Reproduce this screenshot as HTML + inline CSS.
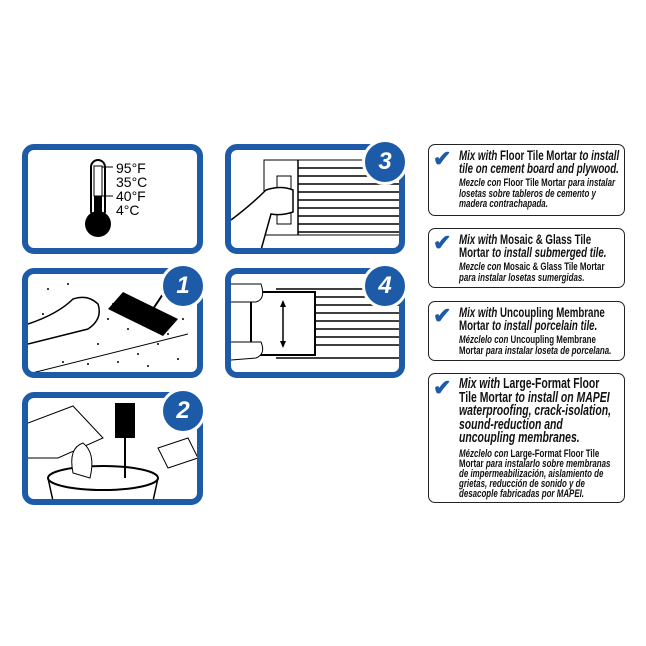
<!DOCTYPE html>
<html><head><meta charset="utf-8"><style>
body{margin:0;width:646px;height:646px;background:#fff;position:relative;font-family:"Liberation Sans",sans-serif;overflow:hidden}
.p{position:absolute;border:6px solid #1d5aa8;border-radius:12px;box-sizing:border-box;background:#fff;overflow:hidden}
.n{position:absolute;width:40px;height:40px;border-radius:50%;background:#1d5aa8;color:#fff;font:italic bold 24px "Liberation Sans",sans-serif;text-align:center;line-height:40px;border:3px solid #fff}
.b{position:absolute;left:428px;width:197px;border:1.5px solid #222;border-radius:7px;box-sizing:border-box;color:#111}
.t{position:absolute;left:30px;top:4px;width:225px;transform:scaleX(0.72);transform-origin:0 0}
.h{font:bold 13.5px/13px "Liberation Sans",sans-serif}
.h i{font-style:italic}
.s{font:bold 11px/10.5px "Liberation Sans",sans-serif;margin-top:3px;width:222px}
.s i{font-style:italic}
.ck{position:absolute;left:4px;top:1px;color:#1d5aa8;font-size:22px;font-weight:bold}
</style></head><body>

<div class="p" style="left:22px;top:144px;width:181px;height:110px">
<svg width="170" height="100" style="position:absolute;left:0;top:0">
<rect x="63" y="10" width="14" height="58" rx="7" fill="#fff" stroke="#000" stroke-width="2"/>
<circle cx="70" cy="74" r="13" fill="#000"/>
<rect x="66" y="16" width="8" height="30" fill="#fff" stroke="#000"/>
<rect x="66" y="46" width="8" height="20" fill="#000"/>
<line x1="74" y1="17" x2="85" y2="17" stroke="#000"/>
<line x1="74" y1="46" x2="85" y2="46" stroke="#000"/>
<text x="88" y="23" font-family="Liberation Sans" font-size="14">95°F</text>
<text x="88" y="37" font-family="Liberation Sans" font-size="14">35°C</text>
<text x="88" y="51" font-family="Liberation Sans" font-size="14">40°F</text>
<text x="88" y="65" font-family="Liberation Sans" font-size="14">4°C</text>
</svg></div>

<div class="p" style="left:225px;top:144px;width:180px;height:110px">
<svg width="170" height="100">
<rect x="33" y="10" width="145" height="75" fill="none" stroke="#000"/>
<g stroke="#000" stroke-width="1.5">
<line x1="67" y1="18" x2="170" y2="18"/><line x1="67" y1="26" x2="170" y2="26"/><line x1="67" y1="34" x2="170" y2="34"/><line x1="67" y1="42" x2="170" y2="42"/><line x1="67" y1="50" x2="170" y2="50"/><line x1="67" y1="58" x2="170" y2="58"/><line x1="67" y1="66" x2="170" y2="66"/><line x1="67" y1="74" x2="170" y2="74"/><line x1="67" y1="82" x2="170" y2="82"/>
<line x1="67" y1="10" x2="67" y2="85"/></g>
<rect x="46" y="26" width="14" height="48" fill="#fff" stroke="#000"/>
<path d="M0 70 Q20 55 35 40 Q50 35 62 40 L62 62 Q50 66 40 64 L30 100" fill="#fff" stroke="#000" stroke-width="1.5"/>
</svg></div>

<div class="p" style="left:22px;top:268px;width:181px;height:110px">
<svg width="170" height="100">
<g fill="#000">
<circle cx="20" cy="15" r="1"/><circle cx="40" cy="10" r="1"/><circle cx="85" cy="30" r="1"/><circle cx="100" cy="55" r="1"/><circle cx="70" cy="70" r="1"/><circle cx="110" cy="80" r="1"/><circle cx="130" cy="70" r="1"/><circle cx="90" cy="88" r="1"/><circle cx="150" cy="85" r="1"/><circle cx="60" cy="90" r="1"/><circle cx="120" cy="92" r="1"/><circle cx="140" cy="60" r="1"/><circle cx="80" cy="45" r="1"/><circle cx="35" cy="88" r="1"/><circle cx="15" cy="40" r="1"/><circle cx="155" cy="45" r="1"/></g>
<path d="M0 50 Q30 40 45 25 Q60 20 70 30 Q75 45 60 55 L0 70" fill="#fff" stroke="#000" stroke-width="1.5"/>
<path d="M80 35 L95 18 L150 45 L135 62 Z" fill="#000"/>
<line x1="125" y1="35" x2="145" y2="5" stroke="#000" stroke-width="2"/>
<line x1="0" y1="100" x2="160" y2="60" stroke="#000"/>
</svg></div>

<div class="p" style="left:225px;top:268px;width:180px;height:110px">
<svg width="170" height="100">
<g stroke="#000" stroke-width="1.5">
<line x1="45" y1="15" x2="170" y2="15"/><line x1="85" y1="23" x2="170" y2="23"/><line x1="85" y1="31" x2="170" y2="31"/><line x1="85" y1="39" x2="170" y2="39"/><line x1="85" y1="47" x2="170" y2="47"/><line x1="85" y1="55" x2="170" y2="55"/><line x1="85" y1="63" x2="170" y2="63"/><line x1="85" y1="71" x2="170" y2="71"/><line x1="45" y1="84" x2="170" y2="84"/></g>
<rect x="20" y="18" width="64" height="63" fill="#fff" stroke="#000" stroke-width="2"/>
<line x1="52" y1="28" x2="52" y2="72" stroke="#000" stroke-width="1.5"/>
<path d="M52 26 l-3 7 h6z M52 74 l-3 -7 h6z" fill="#000"/>
<path d="M0 10 L30 10 Q35 25 25 28 L0 28 M0 68 L30 68 Q35 80 25 84 L0 86" fill="#fff" stroke="#000"/>
</svg></div>

<div class="p" style="left:22px;top:392px;width:181px;height:113px">
<svg width="170" height="103">
<path d="M0 25 L45 8 L75 40 L30 60 L0 60" fill="#fff" stroke="#000"/>
<ellipse cx="75" cy="80" rx="55" ry="12" fill="#fff" stroke="#000" stroke-width="2"/>
<path d="M20 80 L25 103 M130 80 L125 103" stroke="#000" stroke-width="1.5"/>
<path d="M45 75 Q40 50 55 45 Q68 55 62 80 Z" fill="#fff" stroke="#000"/>
<rect x="87" y="5" width="20" height="35" fill="#000"/>
<line x1="97" y1="40" x2="97" y2="80" stroke="#000" stroke-width="2"/>
<path d="M130 50 L160 40 L170 60 L140 70 Z" fill="#fff" stroke="#000"/>
</svg></div>

<div class="n" style="left:362px;top:139px">3</div>
<div class="n" style="left:160px;top:263px">1</div>
<div class="n" style="left:362px;top:263px">4</div>
<div class="n" style="left:160px;top:388px">2</div>

<div class="b" style="top:144px;height:72px"><span class="ck">✔</span><div class="t">
<div class="h"><i>Mix with</i> Floor Tile Mortar <i>to install tile on cement board and plywood.</i></div>
<div class="s"><i>Mezcle con</i> Floor Tile Mortar <i>para instalar losetas sobre tableros de cemento y madera contrachapada.</i></div></div></div>

<div class="b" style="top:228px;height:60px"><span class="ck">✔</span><div class="t">
<div class="h"><i>Mix with</i> Mosaic &amp; Glass Tile Mortar <i>to install submerged tile.</i></div>
<div class="s"><i>Mezcle con</i> Mosaic &amp; Glass Tile Mortar <i>para instalar losetas sumergidas.</i></div></div></div>

<div class="b" style="top:301px;height:60px"><span class="ck">✔</span><div class="t">
<div class="h"><i>Mix with</i> Uncoupling Membrane Mortar <i>to install porcelain tile.</i></div>
<div class="s"><i>Mézclelo con</i> Uncoupling Membrane Mortar <i>para instalar loseta de porcelana.</i></div></div></div>

<div class="b" style="top:373px;height:130px"><span class="ck">✔</span><div class="t">
<div class="h" style="font-size:14.5px;line-height:13.5px;width:215px"><i>Mix with</i> Large-Format Floor Tile Mortar <i>to install on MAPEI waterproofing, crack-isolation, sound-reduction and uncoupling membranes.</i></div>
<div class="s" style="width:218px;line-height:10px"><i>Mézclelo con</i> Large-Format Floor Tile Mortar <i>para instalarlo sobre membranas de impermeabilización, aislamiento de grietas, reducción de sonido y de desacople fabricadas por MAPEI.</i></div></div></div>
</body></html>
